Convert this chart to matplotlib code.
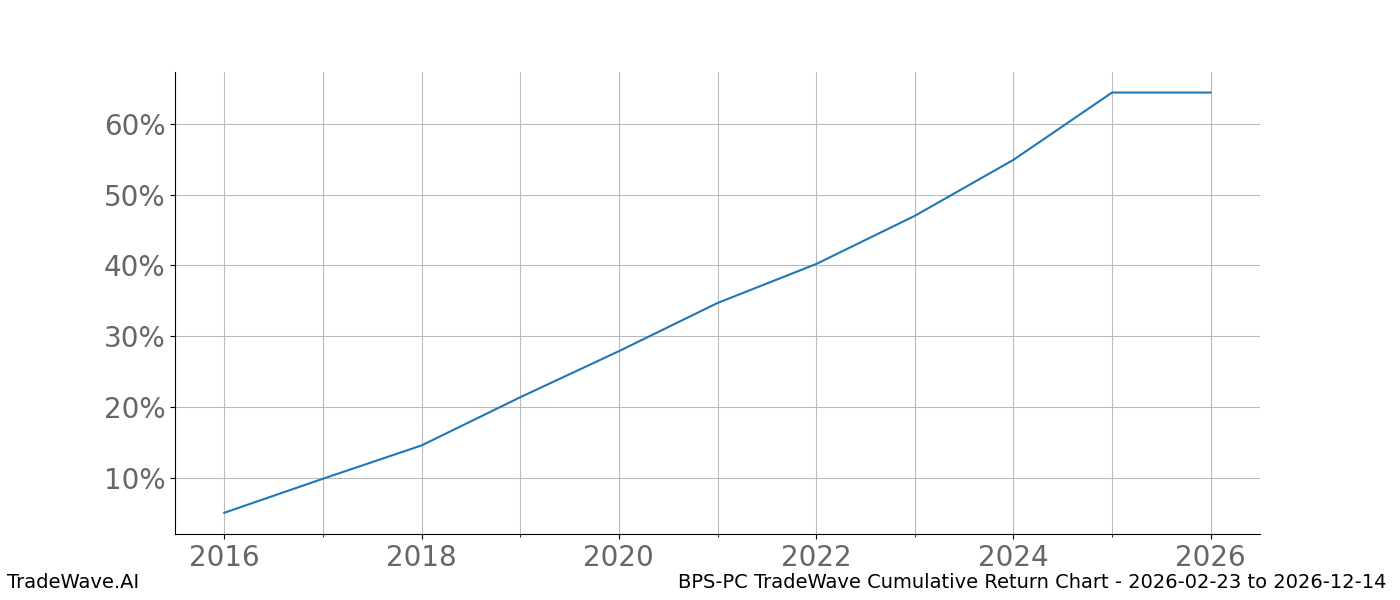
import matplotlib
matplotlib.use("Agg")
import matplotlib.pyplot as plt
from matplotlib.ticker import FuncFormatter, MultipleLocator

years = [2016, 2017, 2018, 2019, 2020, 2021, 2022, 2023, 2024, 2025, 2026]
cum_return = [5.1, 9.9, 14.6, 21.4, 27.9, 34.7, 40.2, 47.0, 54.9, 64.4, 64.4]

fig = plt.figure(figsize=(14, 6), dpi=100)
ax = fig.add_axes([0.125, 0.11, 0.775, 0.77])
ax.plot(years, cum_return, color="#1f77b4", lw=1.5)

ax.set_xlim(2015.5, 2026.5)
ax.set_ylim(2.1, 67.3)
ax.xaxis.set_major_locator(MultipleLocator(2))
ax.xaxis.set_minor_locator(MultipleLocator(1))
ax.yaxis.set_major_locator(MultipleLocator(10))
ax.yaxis.set_major_formatter(FuncFormatter(lambda v, _: f"{v:.0f}%"))
ax.grid(True, which="both", axis="x", color="#bbbbbb", lw=0.8)
ax.grid(True, which="major", axis="y", color="#bbbbbb", lw=0.8)
ax.tick_params(axis="both", which="major", labelsize=20, labelcolor="#666666")
for s in ("top", "right"):
    ax.spines[s].set_visible(False)

fig.text(0.005, 0.02, "TradeWave.AI", fontsize=14)
fig.text(0.99, 0.02, "BPS-PC TradeWave Cumulative Return Chart - 2026-02-23 to 2026-12-14",
         fontsize=14, ha="right")
fig.savefig("out.png", dpi=100)
